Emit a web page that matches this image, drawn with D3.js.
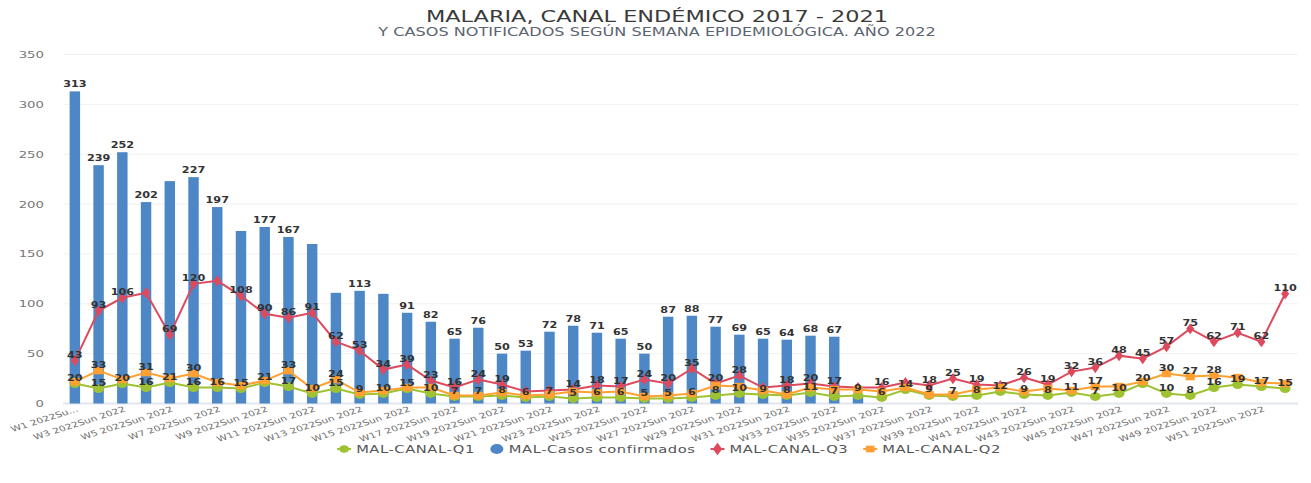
<!DOCTYPE html>
<html>
<head>
<meta charset="utf-8">
<script src="https://cdnjs.cloudflare.com/ajax/libs/d3/7.8.5/d3.min.js"></script>
<style>
  body { margin: 0; background: #fff; }
  text { font-family: "DejaVu Sans", sans-serif; }
</style>
</head>
<body>
<script>
// week categories and the x tick labels (every other week)
const weeks = d3.range(1, 53).map(i => "W" + i);
const tickLabels = ["W1 2022Su...", "W3 2022Sun 2022", "W5 2022Sun 2022", "W7 2022Sun 2022", "W9 2022Sun 2022",
  "W11 2022Sun 2022", "W13 2022Sun 2022", "W15 2022Sun 2022", "W17 2022Sun 2022", "W19 2022Sun 2022",
  "W21 2022Sun 2022", "W23 2022Sun 2022", "W25 2022Sun 2022", "W27 2022Sun 2022", "W29 2022Sun 2022",
  "W31 2022Sun 2022", "W33 2022Sun 2022", "W35 2022Sun 2022", "W37 2022Sun 2022", "W39 2022Sun 2022",
  "W41 2022Sun 2022", "W43 2022Sun 2022", "W45 2022Sun 2022", "W47 2022Sun 2022", "W49 2022Sun 2022",
  "W51 2022Sun 2022"];
const yTicks = [0, 50, 100, 150, 200, 250, 300, 350];

// MAL-Casos confirmados (bars), weeks 1..34 reported
const casos = [313, 239, 252, 202, 223, 227, 197, 173, 177, 167, 160, 111, 113, 110, 91, 82, 65, 76, 50, 53,
  72, 78, 71, 65, 50, 87, 88, 77, 69, 65, 64, 68, 67, 9,
  null, null, null, null, null, null, null, null, null, null, null, null, null, null, null, null, null, null];
// MAL-CANAL-Q1
const q1 = [20, 15, 20, 16, 21, 16, 16, 15, 21, 17, 10, 15, 9, 10, 15, 10, 7, 7, 8, 6,
  7, 5, 6, 6, 5, 5, 6, 8, 10, 9, 8, 11, 7, 8, 6, 14, 8, 7, 8, 12,
  9, 8, 11, 7, 10, 20, 10, 8, 16, 19, 17, 15];
// MAL-CANAL-Q3
const q3 = [43, 93, 106, 111, 69, 120, 123, 108, 90, 86, 91, 62, 53, 34, 39, 23, 16, 24, 19, 12,
  13, 14, 18, 17, 24, 20, 35, 20, 28, 16, 18, 20, 17, 16, 16, 21, 18, 25, 19, 18,
  26, 19, 32, 36, 48, 45, 57, 75, 62, 71, 62, 110];
// MAL-CANAL-Q2
const q2 = [22, 33, 24, 31, 25, 30, 21, 18, 23, 33, 15, 24, 11, 13, 16, 16, 8, 8, 11, 8,
  9, 12, 11, 12, 7, 8, 10, 18, 17, 13, 9, 16, 14, 14, 12, 16, 9, 9, 14, 16,
  12, 15, 13, 17, 17, 22, 30, 27, 28, 26, 21, 20];

// which data labels are visible in the picture (week numbers)
const barLabelHidden = [5, 8, 11, 12, 14];
const q3LabelHidden = [4, 7, 20, 21, 30, 34, 36, 40];
const q2LabelShown = [2, 4, 6, 10, 12, 37, 44, 47, 48, 49];
const q1LabelHidden = [34, 37];

const W = 1311, H = 483;
const SX = 1.4; // text in the picture is stretched horizontally

const svg = d3.select("body").append("svg")
  .attr("width", W).attr("height", H);

const x = d3.scaleBand().domain(weeks).range([63, 1297]).paddingInner(0.56).paddingOuter(0.28);
const y = d3.scaleLinear().domain([0, 350]).range([403.5, 54.5]);
const cx = w => x(w) + x.bandwidth() / 2;

const tr = (px, py) => `translate(${px},${py}) scale(${SX},1)`;

// titles
svg.append("text").attr("transform", tr(657, 22)).attr("text-anchor", "middle")
  .attr("font-size", 16).attr("fill", "#3a3a3a").text("MALARIA, CANAL ENDÉMICO 2017 - 2021");
svg.append("text").attr("transform", tr(657, 36)).attr("text-anchor", "middle")
  .attr("font-size", 11.5).attr("fill", "#5b6470").text("Y CASOS NOTIFICADOS SEGÚN SEMANA EPIDEMIOLÓGICA. AÑO 2022");

// grid
svg.append("g").selectAll("line").data(yTicks).join("line")
  .attr("x1", 63).attr("x2", 1298)
  .attr("y1", d => y(d)).attr("y2", d => y(d))
  .attr("stroke", d => d === 0 ? "#e2e6ee" : "#f1f1f1")
  .attr("stroke-width", d => d === 0 ? 2 : 1);

svg.append("g").selectAll("text").data(yTicks).join("text")
  .attr("transform", d => tr(44, y(d) + 3.5)).attr("text-anchor", "end")
  .attr("font-size", 9.5).attr("fill", "#777").text(d => d);

// x tick labels
const tickWeeks = weeks.filter((w, i) => i % 2 === 0);
svg.append("g").selectAll("text").data(tickWeeks).join("text")
  .attr("transform", d => `translate(${cx(d) + 4},${411}) scale(${SX},1) rotate(-24)`)
  .attr("text-anchor", "end")
  .attr("font-size", 7.7).attr("fill", "#6f6f6f")
  .text((d, i) => tickLabels[i]);

// bars
const barData = weeks.map((w, i) => ({w, v: casos[i], n: i + 1})).filter(d => d.v != null);
svg.append("g").selectAll("rect").data(barData).join("rect")
  .attr("x", d => x(d.w)).attr("width", x.bandwidth())
  .attr("y", d => y(d.v)).attr("height", d => y(0) - y(d.v))
  .attr("fill", "#4d87c5");

// lines
const series = [
  {name: "MAL-CANAL-Q1", vals: q1, color: "#9fc232", sym: d3.symbolCircle, size: 60, show: n => !q1LabelHidden.includes(n)},
  {name: "MAL-CANAL-Q3", vals: q3, color: "#dd4a5e", sym: d3.symbolDiamond, size: 36, show: n => !q3LabelHidden.includes(n)},
  {name: "MAL-CANAL-Q2", vals: q2, color: "#ffa031", sym: d3.symbolSquare, size: 55, show: n => q2LabelShown.includes(n)}
];
const line = d3.line().x(d => cx(d.w)).y(d => y(d.v));

series.forEach(s => {
  const pts = weeks.map((w, i) => ({w, v: s.vals[i], n: i + 1}));
  const g = svg.append("g");
  g.append("path").datum(pts).attr("d", line)
    .attr("fill", "none").attr("stroke", s.color).attr("stroke-width", 2);
  g.selectAll("path.m").data(pts).join("path").attr("class", "m")
    .attr("transform", d => `translate(${cx(d.w)},${y(d.v)}) scale(1.25,1)`)
    .attr("d", d3.symbol().type(s.sym).size(s.size))
    .attr("fill", s.color);
  s.pts = pts;
});

// data labels
const labels = svg.append("g").attr("font-size", 8).attr("font-weight", "bold").attr("fill", "#333")
  .attr("text-anchor", "middle");
labels.selectAll("text.b").data(barData.filter(d => !barLabelHidden.includes(d.n))).join("text")
  .attr("class", "b")
  .attr("transform", d => tr(cx(d.w), y(d.v) - 4)).text(d => d.v);
series.forEach(s => {
  labels.append("g").selectAll("text").data(s.pts.filter(d => s.show(d.n))).join("text")
    .attr("transform", d => tr(cx(d.w), y(d.v) - 3)).text(d => d.v);
});

// legend
const legItems = [
  {name: "MAL-CANAL-Q1", color: "#9fc232", sym: d3.symbolCircle, line: true},
  {name: "MAL-Casos confirmados", color: "#4d87c5", sym: d3.symbolCircle, line: false},
  {name: "MAL-CANAL-Q3", color: "#dd4a5e", sym: d3.symbolDiamond, line: true},
  {name: "MAL-CANAL-Q2", color: "#ffa031", sym: d3.symbolSquare, line: true}
];
const leg = svg.append("g");
let lx = 0;
legItems.forEach(it => {
  const g = leg.append("g").attr("transform", `translate(${lx},0)`);
  if (it.line) g.append("line").attr("x1", 0).attr("x2", 14).attr("y1", 0).attr("y2", 0)
    .attr("stroke", it.color).attr("stroke-width", 2);
  g.append("path").attr("transform", `translate(7,0) scale(1.3,1)`)
    .attr("d", d3.symbol().type(it.sym).size(it.line ? 45 : 80)).attr("fill", it.color);
  const t = g.append("text").attr("transform", tr(19, 4)).attr("font-size", 10.5)
    .attr("letter-spacing", 0.4).attr("fill", "#555").text(it.name);
  lx += 19 + t.node().getComputedTextLength() * SX + 15;
});
leg.attr("transform", `translate(${669 - (lx - 15) / 2},449)`);
</script>
</body>
</html>
